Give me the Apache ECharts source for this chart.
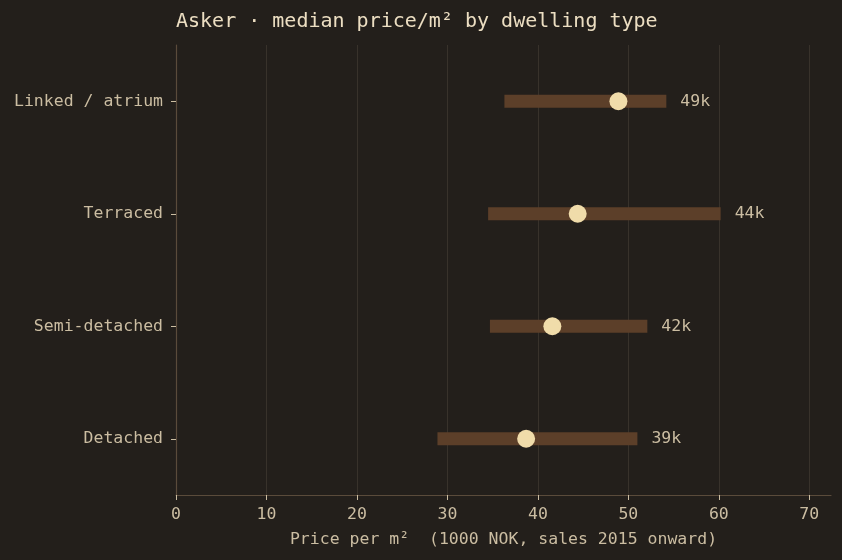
<!DOCTYPE html>
<html>
<head>
<meta charset="utf-8">
<script src="https://cdn.jsdelivr.net/npm/echarts@6/dist/echarts.min.js"></script>
<style>
html,body{margin:0;padding:0;background:#231f1b;}
#chart{width:842px;height:560px;}
</style>
</head>
<body>
<div id="chart"></div>
<script>
// bottom to top (category axis starts at the bottom)
const types = ['Detached', 'Semi-detached', 'Terraced', 'Linked / atrium'];
const lows = [28.9, 34.7, 34.5, 36.3];
const highs = [51.0, 52.1, 60.2, 54.2];
const medians = [38.7, 41.6, 44.4, 48.9];
const xTicks = [0, 10, 20, 30, 40, 50, 60, 70];

const mono = 'DejaVu Sans Mono';
const textCol = '#cbbda2';

let chart = echarts.init(document.getElementById('chart'));

chart.setOption({
	backgroundColor: '#231f1b',
	animation: false,
	title: {
		text: 'Asker · median price/m² by dwelling type',
		left: 171,
		top: 7,
		textStyle: {
			fontFamily: mono,
			fontSize: 20,
			fontWeight: 'normal',
			color: '#ecdec2',
		},
	},
	grid: {
		left: 176,
		right: 11,
		top: 45,
		bottom: 65,
	},
	xAxis: {
		type: 'value',
		min: 0,
		max: 72.4,
		interval: 10,
		name: 'Price per m²  (1000 NOK, sales 2015 onward)',
		nameLocation: 'middle',
		nameGap: 36,
		nameTextStyle: { fontFamily: mono, fontSize: 16.5, color: textCol },
		axisLine: { show: true, lineStyle: { color: '#5a4b3b', width: 1.2 } },
		axisTick: { show: true, length: 5, customValues: xTicks, lineStyle: { color: '#cbbda2' } },
		axisLabel: { customValues: xTicks, fontFamily: mono, fontSize: 16.5, color: textCol, margin: 11 },
		splitLine: { show: true, lineStyle: { color: '#38322b', width: 1 } },
	},
	yAxis: {
		type: 'category',
		data: types,
		axisLine: { show: true, lineStyle: { color: '#5a4b3b', width: 1.2 } },
		axisTick: { show: true, alignWithLabel: true, length: 5, lineStyle: { color: '#cbbda2' } },
		axisLabel: { fontFamily: mono, fontSize: 16.5, color: textCol, margin: 13 },
		splitLine: { show: false },
	},
	series: [
		{
			type: 'bar',
			stack: 'range',
			data: lows,
			barWidth: 13,
			itemStyle: { color: 'transparent' },
			silent: true,
		},
		{
			type: 'bar',
			stack: 'range',
			data: highs.map((h, i) => h - lows[i]),
			barWidth: 13,
			itemStyle: { color: '#5c3f29' },
			label: {
				show: true,
				position: 'right',
				distance: 14,
				fontFamily: mono,
				fontSize: 16.5,
				color: textCol,
				formatter: (p) => Math.round(medians[p.dataIndex]) + 'k',
			},
		},
		{
			type: 'scatter',
			data: medians.map((m, i) => [m, types[i]]),
			symbolSize: 18,
			itemStyle: { color: '#f0dcaa', opacity: 1 },
			z: 5,
		},
	],
});
</script>
</body>
</html>
